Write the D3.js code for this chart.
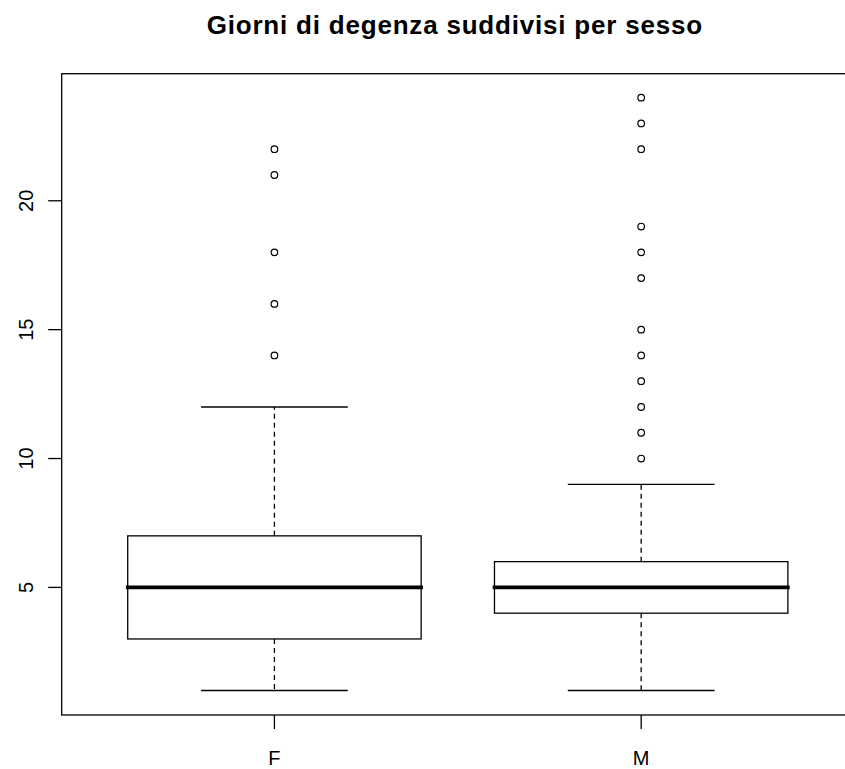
<!DOCTYPE html>
<html><head><meta charset="utf-8">
<script src="https://cdn.jsdelivr.net/npm/d3@7/dist/d3.min.js"></script>
<style>body{margin:0;background:#fff}svg{display:block}</style>
</head><body>
<svg id="chart" width="845" height="769"></svg>
<script>
const title = "Giorni di degenza suddivisi per sesso";
const categories = ["F", "M"];
const whiskerLow = [1, 1];
const q1 = [3, 4];
const median = [5, 5];
const q3 = [7, 6];
const whiskerHigh = [12, 9];
const outliersF = [14, 16, 18, 21, 22];
const outliersM = [10, 11, 12, 13, 14, 15, 17, 18, 19, 22, 23, 24];
const outliers = [outliersF, outliersM];
const yTicks = [5, 10, 15, 20];

const svg = d3.select("#chart");
const plot = {left: 61.7, right: 853.9, top: 73.7, bottom: 715};
const x = d3.scaleLinear().domain([0.42, 2.58]).range([plot.left, plot.right]);
const y = d3.scaleLinear().domain([0.05, 24.93]).range([plot.bottom, plot.top]);
const font = "'Liberation Sans', Arial, sans-serif";
const lw = 1.3;

// title
svg.append("text").attr("x", (plot.left + plot.right) / 2 - 3).attr("y", 34)
  .attr("text-anchor", "middle").attr("font-family", font).attr("font-weight", "bold")
  .attr("font-size", 26).attr("letter-spacing", 0.8).attr("fill", "#000").text(title);

// boxes
const bw = 0.4, sw = 0.2;
categories.forEach((c, i) => {
  const cx = i + 1;
  const g = svg.append("g").attr("stroke", "#000").attr("fill", "none");
  g.append("line").attr("x1", x(cx)).attr("x2", x(cx)).attr("y1", y(q3[i])).attr("y2", y(whiskerHigh[i]))
    .attr("stroke-width", lw).attr("stroke-dasharray", "5,4");
  g.append("line").attr("x1", x(cx)).attr("x2", x(cx)).attr("y1", y(q1[i])).attr("y2", y(whiskerLow[i]))
    .attr("stroke-width", lw).attr("stroke-dasharray", "5,4");
  [whiskerHigh[i], whiskerLow[i]].forEach(v => {
    g.append("line").attr("x1", x(cx - sw)).attr("x2", x(cx + sw)).attr("y1", y(v)).attr("y2", y(v))
      .attr("stroke-width", lw);
  });
  g.append("rect").attr("x", x(cx - bw)).attr("width", x(cx + bw) - x(cx - bw))
    .attr("y", y(q3[i])).attr("height", y(q1[i]) - y(q3[i])).attr("stroke-width", lw).attr("fill", "#fff");
  g.append("line").attr("x1", x(cx - bw)).attr("x2", x(cx + bw)).attr("y1", y(median[i])).attr("y2", y(median[i]))
    .attr("stroke-width", 3.6).attr("stroke-linecap", "square");
  g.selectAll("circle.o").data(outliers[i]).enter().append("circle")
    .attr("cx", x(cx)).attr("cy", d => y(d)).attr("r", 3.3).attr("stroke-width", 1.2).attr("fill", "none");
});

// frame
svg.append("rect").attr("x", plot.left).attr("y", plot.top)
  .attr("width", plot.right - plot.left).attr("height", plot.bottom - plot.top)
  .attr("fill", "none").attr("stroke", "#000").attr("stroke-width", lw);

// y axis
const yAxis = svg.append("g");
yTicks.forEach(t => {
  yAxis.append("line").attr("x1", plot.left - 13.5).attr("x2", plot.left).attr("y1", y(t)).attr("y2", y(t))
    .attr("stroke", "#000").attr("stroke-width", lw);
  yAxis.append("text").attr("transform", `translate(33,${y(t)}) rotate(-90)`)
    .attr("text-anchor", "middle").attr("font-family", font).attr("font-size", 20).attr("fill", "#000").text(t);
});

// x axis
categories.forEach((c, i) => {
  svg.append("line").attr("x1", x(i + 1)).attr("x2", x(i + 1)).attr("y1", plot.bottom).attr("y2", plot.bottom + 14)
    .attr("stroke", "#000").attr("stroke-width", lw);
  svg.append("text").attr("x", x(i + 1)).attr("y", 765).attr("text-anchor", "middle")
    .attr("font-family", font).attr("font-size", 20).attr("fill", "#000").text(c);
});
</script>
</body></html>
